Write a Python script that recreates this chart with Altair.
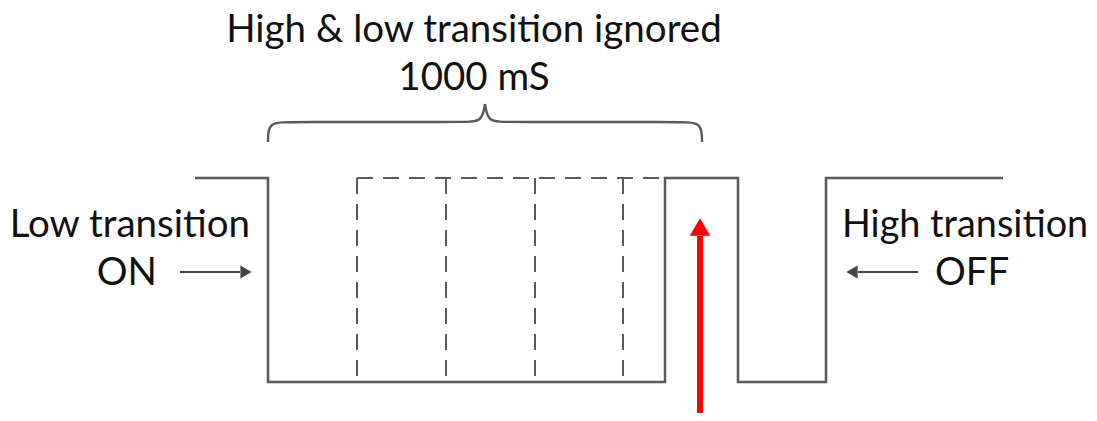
import altair as alt
import pandas as pd

# waveform (solid) vertices, in picture pixels
wave_x = [195, 268, 268, 665, 665, 738, 738, 826, 826, 1003]
wave_y = [178, 178, 382, 382, 178, 178, 382, 382, 178, 178]

# ignored (dashed) transitions
dash_x = [357, 446, 535, 623]
dash_top = 178
dash_bottom = 382
dash_end = 665

# brace control points (two halves meeting at the tip)
brace_left_x = [268, 268, 290, 465, 482, 485]
brace_left_y = [142, 122, 122, 122, 122, 104]
brace_right_x = [485, 488, 505, 680, 702, 702]
brace_right_y = [104, 122, 122, 122, 122, 142]

# texts
labels = ["High & low transition ignored", "1000 mS", "Low transition", "ON",
          "High transition", "OFF"]
label_x = [474, 474, 250, 157, 842, 935]
label_y = [42, 90, 237, 285, 237, 285]
label_align = ["center", "center", "right", "right", "left", "left"]
label_size = [38.5, 38.5, 38.5, 38.5, 37.8, 38.5]

# small arrows
arrow_x1 = [180, 918]
arrow_x2 = [240, 858]
arrow_y = [272, 272]
head_x = [246, 852]
head_shape = ["triangle-right", "triangle-left"]

# red arrow
red_x = 700
red_y_bottom = 413
red_y_top = 236
red_head_y = 227

W, H = 1081, 405
xs = alt.Scale(domain=[8, 8 + W])
ys = alt.Scale(domain=[8, 8 + H], reverse=True)
X = lambda f: alt.X(f, type="quantitative", scale=xs, axis=None)
Y = lambda f: alt.Y(f, type="quantitative", scale=ys, axis=None)

grey = "#5a5a5a"

wave_df = pd.DataFrame({"x": wave_x, "y": wave_y, "o": range(len(wave_x))})
wave = alt.Chart(wave_df).mark_line(color=grey, strokeWidth=2.5).encode(
    x=X("x"), y=Y("y"), order="o:Q")

dv_df = pd.DataFrame({"x": dash_x, "y": [dash_top] * 4, "y2": [dash_bottom] * 4})
dash_v = alt.Chart(dv_df).mark_rule(color=grey, strokeWidth=2, strokeDash=[16, 10]).encode(
    x=X("x"), y=Y("y"), y2="y2")
dh_df = pd.DataFrame({"x": [dash_x[0]], "x2": [dash_end], "y": [dash_top]})
dash_h = alt.Chart(dh_df).mark_rule(color=grey, strokeWidth=2, strokeDash=[16, 10]).encode(
    x=X("x"), x2="x2", y=Y("y"))

brace_layers = []
for bx, by in [(brace_left_x, brace_left_y), (brace_right_x, brace_right_y)]:
    bdf = pd.DataFrame({"x": bx, "y": by, "o": range(len(bx))})
    brace_layers.append(alt.Chart(bdf).mark_line(
        color=grey, strokeWidth=2.4, interpolate="basis").encode(
        x=X("x"), y=Y("y"), order="o:Q"))

txt_layers = []
for t, tx, ty, al, fs in zip(labels, label_x, label_y, label_align, label_size):
    df = pd.DataFrame({"x": [tx], "y": [ty], "t": [t]})
    txt_layers.append(alt.Chart(df).mark_text(
        font="Lato", fontSize=fs, color="#111111", align=al, baseline="alphabetic"
    ).encode(x=X("x"), y=Y("y"), text="t:N"))

arr_df = pd.DataFrame({"x": arrow_x1, "x2": arrow_x2, "y": arrow_y})
arrows = alt.Chart(arr_df).mark_rule(color="#444444", strokeWidth=2).encode(
    x=X("x"), x2="x2", y=Y("y"))
heads_df = pd.DataFrame({"x": head_x, "y": arrow_y, "s": head_shape})
heads = alt.Chart(heads_df).mark_point(filled=True, color="#444444", size=170, opacity=1).encode(
    x=X("x"), y=Y("y"), shape=alt.Shape("s:N", scale=None, legend=None))

red_df = pd.DataFrame({"x": [red_x], "y": [red_y_bottom], "y2": [red_y_top]})
red = alt.Chart(red_df).mark_rule(color="#ff0000", strokeWidth=6).encode(
    x=X("x"), y=Y("y"), y2="y2")
red_head_df = pd.DataFrame({"x": [red_x], "y": [red_head_y]})
red_head = alt.Chart(red_head_df).mark_point(
    shape="triangle-up", filled=True, color="#ff0000", size=420, opacity=1).encode(
    x=X("x"), y=Y("y"))

chart = alt.layer(wave, dash_v, dash_h, *brace_layers, *txt_layers, arrows, heads, red, red_head).properties(
    width=W, height=H, padding=0, autosize="none"
).configure_view(stroke=None)

chart.save("out.html", embed_options={"renderer": "svg", "actions": False})
